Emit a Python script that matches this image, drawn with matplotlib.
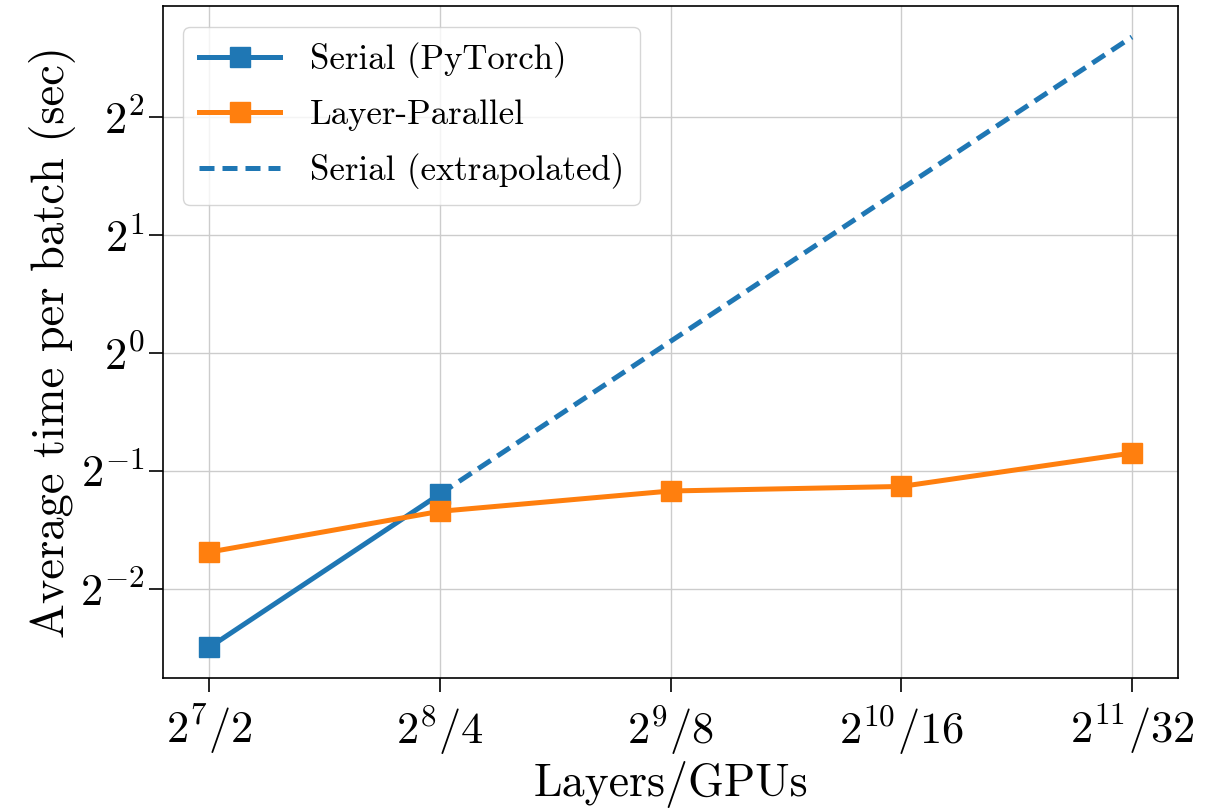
import matplotlib
matplotlib.use("Agg")
import matplotlib.pyplot as plt
from matplotlib.ticker import LogLocator, LogFormatterSciNotation, NullLocator

# Fonts: LaTeX-like look via Computer Modern shipped with matplotlib
plt.rcParams['font.family'] = ['cmr10', 'DejaVu Serif']
plt.rcParams['mathtext.fontset'] = 'cm'
plt.rcParams['axes.formatter.use_mathtext'] = True
plt.rcParams['axes.unicode_minus'] = False

# Data
labels = [r'$2^{7}/2$', r'$2^{8}/4$', r'$2^{9}/8$', r'$2^{10}/16$', r'$2^{11}/32$']
serial = [0.177, 0.436]
layer_parallel = [0.31, 0.394, 0.444, 0.456, 0.555]
serial_extrap = [0.436, 1.07, 2.62, 6.4]

x = list(range(len(labels)))

fig = plt.figure(figsize=(12.12, 8.11), dpi=100)
ax = fig.add_axes([0.1345, 0.164, 0.972 - 0.1345, 0.992 - 0.164])

ax.plot(x[:2], serial, c="#1f77b4", linewidth=3.6, marker='s',
        markersize=14.5, label="Serial (PyTorch)", zorder=3)
ax.plot(x, layer_parallel, c="#ff7f0e", linewidth=3.6, marker='s',
        markersize=14.5, label="Layer-Parallel", zorder=4)
ax.plot(x[1:], serial_extrap, c="#1f77b4", linewidth=3.6,
        linestyle="dashed", dashes=(3, 1.6), label="Serial (extrapolated)", zorder=2)

ax.set_yscale("log", base=2)
ax.yaxis.set_major_locator(LogLocator(base=2, numticks=20))
ax.yaxis.set_major_formatter(LogFormatterSciNotation(base=2))
ax.yaxis.set_minor_locator(NullLocator())

ax.set_xticks(x)
ax.set_xticklabels(labels)

ax.tick_params(axis='both', labelsize=32, length=10, width=1.2)
ax.tick_params(axis='x', pad=8)
ax.grid(True, color="#cccccc", linewidth=1.0)
ax.set_axisbelow(True)
for s in ax.spines.values():
    s.set_linewidth(1.2)

ax.set_xlabel("Layers/GPUs", fontsize=33, labelpad=3)
ax.set_ylabel("Average time per batch (sec)", fontsize=33.5, labelpad=3)

leg = ax.legend(loc="upper left", fontsize=25, handlelength=2.35,
                borderpad=0.45, labelspacing=0.62, handletextpad=0.85,
                borderaxespad=0.58)
leg.get_frame().set_edgecolor("#cccccc")

fig.savefig("out.png", dpi=100)
